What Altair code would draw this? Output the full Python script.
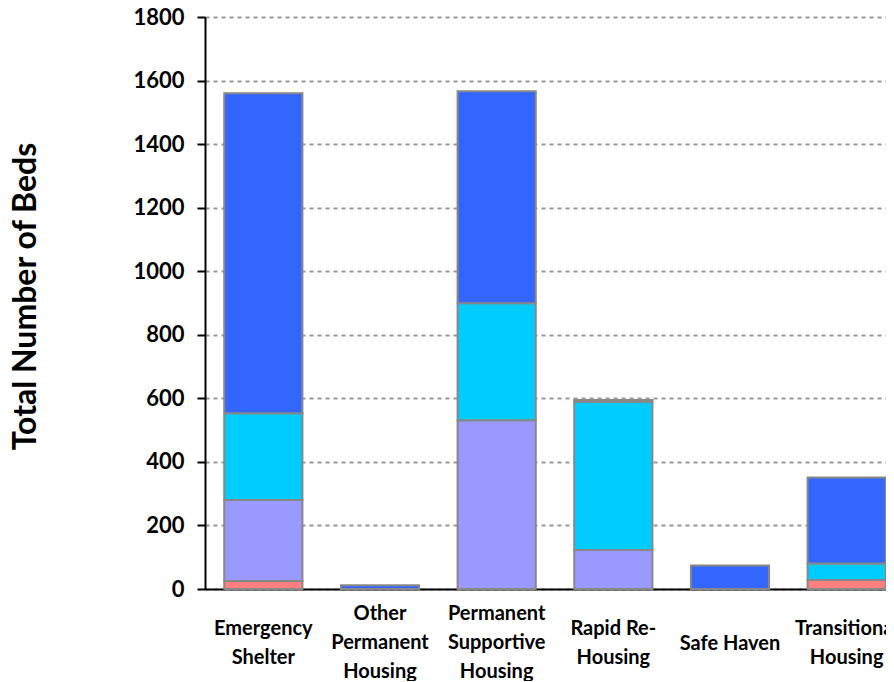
import altair as alt
import pandas as pd

categories = ["Emergency Shelter", "Other Permanent Housing", "Permanent Supportive Housing",
              "Rapid Re-Housing", "Safe Haven", "Transitional Housing"]
series = ["Series A", "Series B", "Series C", "Series D"]
colors = ["#FF7F7F", "#9999FF", "#00CCFF", "#3366FF"]

series_a = [25, 0, 0, 0, 0, 28]
series_b = [255, 0, 531, 123, 0, 0]
series_c = [273, 0, 368, 466, 0, 52]
series_d = [1007, 12, 667, 6, 74, 271]

rows = []
for si, (name, vals) in enumerate(zip(series, [series_a, series_b, series_c, series_d])):
    for c, v in zip(categories, vals):
        if v > 0:
            rows.append({"category": c, "series": name, "order": si, "value": v})
df = pd.DataFrame(rows)

label_expr = ("datum.value == 'Emergency Shelter' ? ['Emergency','Shelter'] : "
              "datum.value == 'Other Permanent Housing' ? ['Other','Permanent','Housing'] : "
              "datum.value == 'Permanent Supportive Housing' ? ['Permanent','Supportive','Housing'] : "
              "datum.value == 'Rapid Re-Housing' ? ['Rapid Re-','Housing'] : "
              "datum.value == 'Transitional Housing' ? ['Transitional','Housing'] : datum.value")

FONT = "Lato"


def build(conditional=True):
    if conditional:
        pad = {"condition": [
            {"test": "datum.value == 'Other Permanent Housing' || datum.value == 'Permanent Supportive Housing'",
             "value": 14},
            {"test": "datum.value == 'Safe Haven'", "value": 44},
        ], "value": 29}
    else:
        pad = 22
    xaxis = alt.Axis(title=None, labelAngle=0, labelExpr=label_expr,
                     labelFont=FONT, labelFontWeight="bold", labelFontSize=20,
                     labelColor="black", labelLineHeight=29, labelBaseline="top",
                     labelPadding=pad, ticks=False, domainColor="black",
                     domainWidth=2, grid=False, labelLimit=300, labelOverlap=False)
    return alt.Chart(df).mark_bar(stroke="#888888", strokeWidth=2).encode(
        x=alt.X("category:N", sort=categories,
                scale=alt.Scale(paddingInner=0.33, paddingOuter=0.165, range=[0, 700]),
                axis=xaxis),
        y=alt.Y("value:Q", stack="zero",
                scale=alt.Scale(domain=[0, 1800], nice=False),
                axis=alt.Axis(title="Total Number of Beds", values=list(range(0, 1801, 200)),
                              format="d",
                              labelFont=FONT, labelFontWeight="bold", labelFontSize=22,
                              labelColor="black", labelPadding=13,
                              titleFont=FONT, titleFontWeight="bold", titleFontSize=32,
                              titleColor="black", titleBaseline="alphabetic",
                              titleX=-170, titleY=279, titleAngle=270,
                              tickColor="black", tickSize=8, tickWidth=2,
                              domainColor="black", domainWidth=2,
                              grid=True, gridColor="#999999", gridDash=[4, 4],
                              gridWidth=2)),
        color=alt.Color("series:N", sort=series,
                        scale=alt.Scale(domain=series, range=colors), legend=None),
        order=alt.Order("order:Q", sort="ascending"),
    ).properties(
        width=681, height=572,
        autosize=alt.AutoSizeParams(type="none"),
        padding={"left": 197, "top": 9, "right": 0, "bottom": 92},
    ).configure_view(stroke=None)


try:
    chart = build(True)
    chart.to_dict()
except Exception:
    chart = build(False)

chart.save("out.html", embed_options={"renderer": "svg", "actions": False})
